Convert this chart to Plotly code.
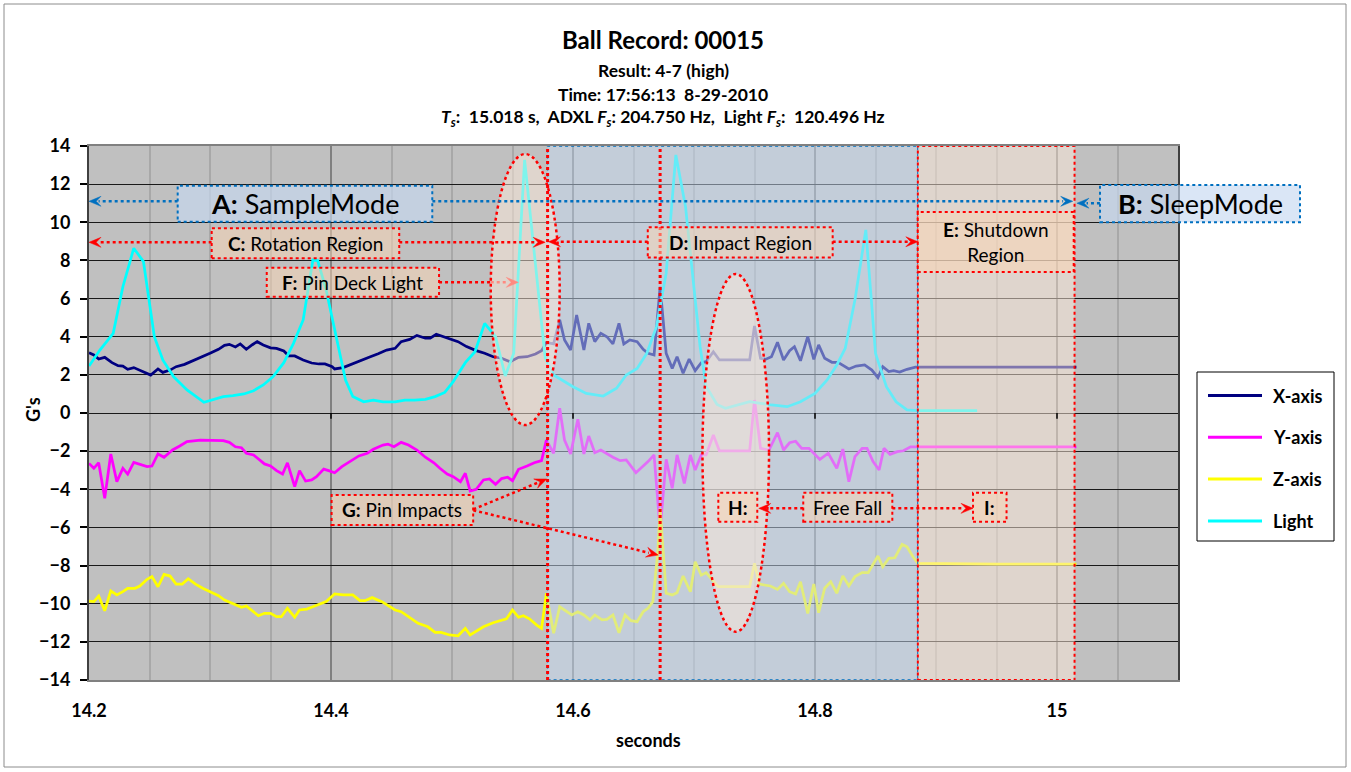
import math
import plotly.graph_objects as go

# ---------------- data ----------------
t_x = [14.200,14.204,14.208,14.213,14.219,14.224,14.228,14.232,14.237,14.242,
       14.247,14.251,14.257,14.261,14.267,14.272,14.279,14.286,14.293,14.300,
       14.307,14.312,14.316,14.321,14.325,14.330,14.335,14.339,14.344,14.350,
       14.355,14.361,14.365,14.370,14.377,14.384,14.390,14.395,14.401,14.403,
       14.410,14.417,14.424,14.432,14.439,14.446,14.453,14.458,14.465,14.471,
       14.478,14.482,14.487,14.493,14.498,14.505,14.512,14.520,14.527,14.534,
       14.541,14.548,14.555,14.562,14.569,14.574,14.578,14.584,14.589,14.593,
       14.598,14.603,14.609,14.613,14.618,14.623,14.628,14.633,14.638,14.642,
       14.647,14.653,14.658,14.662,14.667,14.672,14.677,14.682,14.686,14.691,
       14.696,14.701,14.706,14.710,14.716,14.721,14.746,14.750,14.755,14.759,
       14.764,14.769,14.774,14.779,14.783,14.788,14.794,14.799,14.803,14.808,
       14.814,14.819,14.828,14.834,14.841,14.847,14.852,14.856,14.861,14.865,
       14.870,14.876,14.883,14.900,14.930,14.960,14.990,15.016]
acc_x = [3.16,3.04,2.83,2.92,2.64,2.48,2.46,2.29,2.38,2.25,
         2.08,1.99,2.31,2.13,2.25,2.43,2.55,2.73,2.92,3.13,
         3.34,3.55,3.60,3.46,3.62,3.34,3.58,3.74,3.57,3.42,
         3.39,3.25,3.00,2.99,2.78,2.62,2.57,2.57,2.43,2.31,
         2.38,2.57,2.76,2.94,3.11,3.30,3.39,3.74,3.86,4.07,
         3.92,3.92,4.13,4.00,3.86,3.74,3.48,3.27,3.13,2.95,
         2.87,2.69,2.92,2.95,3.09,3.27,3.70,3.62,4.88,3.83,
         3.30,5.14,3.30,4.70,3.74,4.18,4.00,3.62,4.70,3.62,
         3.83,3.74,3.34,3.13,3.04,6.62,3.13,2.34,2.95,2.08,
         2.83,2.22,2.64,2.69,3.21,2.78,2.78,4.56,2.87,2.81,
         2.95,3.71,2.78,3.27,3.48,2.74,4.00,2.81,3.57,2.87,
         2.66,2.66,2.31,2.46,2.52,2.25,1.85,2.43,2.17,2.22,
         2.15,2.29,2.40,2.41,2.40,2.41,2.40,2.41]

t_y = [14.200,14.204,14.208,14.213,14.218,14.223,14.228,14.232,14.237,14.244,
       14.248,14.252,14.257,14.262,14.269,14.275,14.281,14.292,14.301,14.311,
       14.316,14.321,14.326,14.330,14.336,14.341,14.345,14.350,14.355,14.360,
       14.364,14.370,14.374,14.379,14.384,14.388,14.394,14.398,14.403,14.409,
       14.416,14.423,14.430,14.435,14.443,14.447,14.452,14.458,14.464,14.471,
       14.478,14.485,14.490,14.496,14.501,14.507,14.511,14.515,14.520,14.526,
       14.531,14.536,14.541,14.546,14.550,14.555,14.562,14.568,14.574,14.578,
       14.584,14.589,14.593,14.598,14.604,14.609,14.613,14.618,14.623,14.628,
       14.633,14.639,14.644,14.652,14.658,14.662,14.667,14.672,14.677,14.682,
       14.686,14.692,14.697,14.701,14.706,14.710,14.716,14.721,14.746,14.750,
       14.755,14.762,14.769,14.774,14.779,14.784,14.789,14.795,14.804,14.811,
       14.818,14.823,14.828,14.833,14.839,14.843,14.848,14.853,14.857,14.862,
       14.868,14.873,14.879,14.887,14.950,15.016]
acc_y = [-2.64,-2.90,-2.61,-4.47,-2.15,-3.60,-2.90,-3.20,-2.59,-2.73,
         -2.81,-2.78,-2.15,-2.32,-1.94,-1.73,-1.50,-1.42,-1.42,-1.45,
         -1.54,-1.77,-1.82,-2.11,-2.20,-2.46,-2.67,-2.78,-3.02,-3.20,
         -2.61,-3.86,-3.02,-3.57,-3.51,-3.34,-2.94,-3.02,-3.13,-2.81,
         -2.55,-2.25,-2.11,-1.90,-1.68,-1.63,-1.77,-1.54,-1.68,-1.94,
         -2.32,-2.61,-2.90,-3.20,-3.34,-3.60,-3.16,-4.09,-4.00,-3.51,
         -3.46,-3.74,-3.44,-3.37,-3.55,-2.95,-2.78,-2.61,-2.50,-1.42,
         -2.11,0.25,-1.42,-2.15,-0.33,-2.15,-1.21,-2.08,-1.94,-2.15,
         -2.32,-2.50,-2.46,-3.13,-2.78,-2.55,-2.20,-6.14,-2.43,-3.95,
         -2.20,-3.69,-2.20,-2.99,-2.20,-2.20,-1.15,-1.98,-1.98,0.68,
         -1.85,-1.94,-1.03,-1.94,-1.56,-1.48,-1.85,-1.85,-2.43,-2.11,
         -2.90,-1.89,-3.60,-2.29,-1.85,-1.85,-2.55,-2.99,-1.85,-2.17,
         -2.03,-1.98,-1.77,-1.77,-1.78,-1.78]

t_z = [14.200,14.204,14.208,14.213,14.218,14.223,14.228,14.232,14.238,14.242,
       14.248,14.252,14.257,14.262,14.267,14.272,14.277,14.282,14.288,14.294,
       14.301,14.307,14.312,14.319,14.326,14.330,14.334,14.340,14.345,14.350,
       14.355,14.359,14.364,14.370,14.374,14.380,14.385,14.391,14.396,14.403,
       14.410,14.418,14.424,14.428,14.434,14.442,14.447,14.453,14.458,14.465,
       14.472,14.480,14.486,14.491,14.498,14.505,14.511,14.515,14.520,14.526,
       14.534,14.540,14.545,14.550,14.555,14.559,14.564,14.570,14.574,14.578,
       14.584,14.589,14.593,14.599,14.604,14.609,14.614,14.618,14.624,14.628,
       14.633,14.638,14.643,14.648,14.653,14.658,14.662,14.666,14.670,14.672,
       14.677,14.682,14.686,14.691,14.697,14.701,14.706,14.710,14.720,14.746,
       14.750,14.754,14.763,14.769,14.774,14.779,14.784,14.788,14.794,14.799,
       14.803,14.808,14.813,14.818,14.823,14.828,14.833,14.839,14.844,14.848,
       14.852,14.856,14.861,14.866,14.872,14.876,14.881,14.885,14.950,15.016]
acc_z = [-9.86,-9.89,-9.60,-10.37,-9.33,-9.54,-9.37,-9.19,-9.19,-9.07,
         -8.72,-8.58,-9.11,-8.46,-8.55,-8.97,-8.97,-8.69,-8.97,-9.19,
         -9.40,-9.58,-9.81,-10.02,-10.19,-10.12,-10.33,-10.63,-10.50,-10.50,
         -10.68,-10.68,-10.24,-10.71,-10.33,-10.28,-10.16,-10.02,-9.89,-9.49,
         -9.54,-9.54,-9.84,-9.84,-9.68,-9.89,-10.07,-10.33,-10.42,-10.71,
         -11.03,-11.21,-11.50,-11.50,-11.64,-11.68,-11.29,-11.64,-11.43,-11.21,
         -11.00,-10.89,-10.79,-10.33,-10.71,-10.63,-10.79,-11.12,-11.29,-9.45,
         -11.55,-10.16,-10.33,-10.59,-10.42,-10.59,-10.85,-10.59,-10.85,-10.82,
         -10.59,-11.52,-10.59,-10.89,-10.94,-10.42,-10.24,-9.89,-7.36,-5.00,
         -9.45,-9.54,-9.42,-8.55,-9.37,-7.80,-8.50,-8.37,-9.11,-9.11,
         -7.88,-8.97,-9.07,-9.25,-8.93,-9.37,-9.49,-8.85,-10.51,-8.97,
         -10.47,-9.19,-8.85,-9.45,-8.55,-9.07,-8.58,-8.37,-8.37,-7.97,
         -7.50,-8.06,-7.62,-7.59,-6.89,-7.01,-7.54,-7.88,-7.92,-7.92]

t_light = [14.200,14.209,14.220,14.228,14.237,14.245,14.254,14.261,14.270,14.281,
           14.295,14.303,14.311,14.319,14.328,14.336,14.344,14.352,14.361,14.369,
           14.377,14.385,14.389,14.396,14.405,14.412,14.418,14.427,14.435,14.443,
           14.453,14.461,14.469,14.478,14.486,14.494,14.501,14.511,14.519,14.527,
           14.536,14.544,14.551,14.560,14.577,14.584,14.600,14.611,14.625,14.636,
           14.644,14.653,14.661,14.669,14.677,14.685,14.693,14.699,14.705,14.710,
           14.719,14.726,14.735,14.746,14.755,14.764,14.777,14.788,14.800,14.810,
           14.818,14.825,14.833,14.842,14.850,14.859,14.867,14.876,14.884,14.900,
           14.917,14.934]
light = [2.46,3.30,4.18,6.62,8.64,7.94,4.00,2.78,1.90,1.21,
         0.56,0.72,0.86,0.91,1.00,1.17,1.47,1.90,2.64,3.65,
         4.88,8.02,7.99,6.45,3.83,1.73,0.86,0.59,0.68,0.59,
         0.59,0.68,0.68,0.72,0.86,1.08,1.64,2.64,3.21,4.70,
         4.00,1.94,3.13,13.27,2.90,1.99,1.38,1.03,0.89,1.30,
         1.99,2.34,3.13,4.53,7.33,13.53,10.82,6.97,3.50,1.40,
         0.45,0.25,0.42,0.59,0.51,0.42,0.33,0.59,1.03,1.73,
         2.52,3.39,5.93,9.60,3.13,1.38,0.59,0.16,0.12,0.12,
         0.12,0.12]

series_names = ["X-axis", "Y-axis", "Z-axis", "Light"]
series_colors = ["#000080", "#FF00FF", "#FFFF00", "#00FFFF"]

x_tick_vals = [14.2, 14.4, 14.6, 14.8, 15.0]
x_tick_text = ["14.2", "14.4", "14.6", "14.8", "15"]
y_tick_vals = list(range(-14, 15, 2))
X_RANGE = [14.2, 15.1]
Y_RANGE = [-14, 14]

assert len(t_x) == len(acc_x) and len(t_y) == len(acc_y)
assert len(t_z) == len(acc_z) and len(t_light) == len(light)

# ---------------- styling ----------------
FONT = "Lato"
RED = "#FF0000"
SALMON = "#FF8A80"
BLUE = "#0070C0"
BLUE_FILL = "rgba(198,217,241,0.5)"
BEIGE_FILL = "rgba(253,233,217,0.5)"
BOX_FILL = "rgba(252,213,180,0.5)"
ABOX_FILL = "rgba(198,217,241,0.65)"

# figure / plot-area geometry (pixels)
W, H = 1351, 772
L, R, T, B = 89, 173, 146, 92
PW, PH = W - L - R, H - T - B
SX = PW / (X_RANGE[1] - X_RANGE[0])   # px per second
SY = PH / (Y_RANGE[1] - Y_RANGE[0])   # px per G


def px(xp):
    return (xp - L) / PW


def py(yp):
    return (H - B - yp) / PH


fig = go.Figure()
for tt, vv, nm, col in zip([t_x, t_y, t_z, t_light], [acc_x, acc_y, acc_z, light],
                           series_names, series_colors):
    fig.add_trace(go.Scatter(x=tt, y=vv, name=nm, mode="lines",
                             line=dict(color=col, width=2.75),
                             showlegend=False, hoverinfo="skip"))

shapes = []


def dline(x0, y0, x1, y1, color=RED, width=2.5, ref="x"):
    shapes.append(dict(type="line", xref=ref, yref="y" if ref == "x" else "paper",
                       x0=x0, y0=y0, x1=x1, y1=y1, layer="above",
                       line=dict(color=color, width=width, dash="dot")))


def box(x0, y0, x1, y1, fill=BOX_FILL, color=RED, width=2, ref="x"):
    shapes.append(dict(type="rect", xref=ref, yref="y" if ref == "x" else "paper",
                       x0=x0, y0=y0, x1=x1, y1=y1, layer="above", fillcolor=fill,
                       line=dict(color=color, width=width, dash="dot")))


def arrow(x0, y0, x1, y1, color=RED, width=2.5, head_len=12, head_w=10):
    """dotted line from (x0,y0) to tip (x1,y1) in data units, with a stealth head."""
    ux, uy = (x1 - x0) * SX, (y1 - y0) * SY
    n = math.hypot(ux, uy)
    ux, uy = ux / n, uy / n
    vx, vy = -uy, ux
    back_x, back_y = x1 - ux * head_len * 0.8 / SX, y1 - uy * head_len * 0.8 / SY
    dline(x0, y0, back_x, back_y, color=color, width=width)
    pts = [(0, 0),
           (-ux * head_len + vx * head_w / 2, -uy * head_len + vy * head_w / 2),
           (-ux * head_len * 0.6, -uy * head_len * 0.6),
           (-ux * head_len - vx * head_w / 2, -uy * head_len - vy * head_w / 2)]
    path = "M " + " L ".join(f"{x1 + dx / SX:.6f},{y1 + dy / SY:.6f}" for dx, dy in pts) + " Z"
    shapes.append(dict(type="path", xref="x", yref="y", path=path, layer="above",
                       fillcolor=color, line=dict(color=color, width=0.5)))


# regions
box(14.579, -14, 14.885, 14, fill=BLUE_FILL, color=BLUE, width=1.5)
box(14.885, -14, 15.0145, 14, fill=BEIGE_FILL, color=RED, width=2)
# ellipses
shapes.append(dict(type="circle", xref="x", yref="y", x0=14.532, x1=14.589, y0=-0.63, y1=13.58,
                   layer="above", fillcolor=BEIGE_FILL, line=dict(color=RED, width=2.5, dash="dot")))
shapes.append(dict(type="circle", xref="x", yref="y", x0=14.707, x1=14.762, y0=-11.47, y1=7.29,
                   layer="above", fillcolor=BEIGE_FILL, line=dict(color=RED, width=2.5, dash="dot")))
# region boundaries
dline(14.579, -14, 14.579, 14, width=3)
dline(14.672, -14, 14.672, 14, width=3)

# arrows
arrow(14.2733, 11.1, 14.2, 11.1, color=BLUE)
arrow(14.4837, 11.1, 15.013, 11.1, color=BLUE)
arrow(15.0355, 11.0, 15.0165, 11.0, color=BLUE)
arrow(14.3014, 8.95, 14.2, 8.95)
arrow(14.4564, 8.95, 14.577, 8.95)
arrow(14.6618, 8.98, 14.5797, 8.98)
arrow(14.8146, 8.98, 14.885, 8.98)
dline(14.4893, 6.85, 14.532, 6.85)
arrow(14.532, 6.85, 14.5548, 6.85, color=SALMON)
arrow(14.5176, -5.05, 14.5783, -3.46)
arrow(14.5176, -5.10, 14.6705, -7.45)
arrow(14.7903, -5.0, 14.7535, -5.0)
arrow(14.8639, -5.0, 14.9306, -5.0)

# label boxes
box(14.2733, 10.03, 14.4837, 11.92, fill=ABOX_FILL, color=BLUE, width=2)
box(px(1100), py(222.3), px(1300), py(185), fill=ABOX_FILL, color=BLUE, width=2, ref="paper")
box(14.3014, 8.11, 14.4564, 9.69)
box(14.6618, 8.16, 14.8146, 9.74)
box(14.8849, 7.39, 15.0138, 10.54)
box(14.3469, 6.10, 14.4893, 7.62)
box(14.4005, -5.87, 14.5175, -4.30)
box(14.7201, -5.70, 14.7523, -4.18)
box(14.7903, -5.70, 14.8639, -4.18)
box(14.9306, -5.70, 14.9583, -4.18)

# x-axis tick marks at y = 0
for xv in x_tick_vals[1:]:
    shapes.append(dict(type="line", xref="x", yref="y", x0=xv, x1=xv, y0=0, y1=-0.3,
                       layer="above", line=dict(color="black", width=1.5)))

# outer chart border
shapes.append(dict(type="rect", xref="paper", yref="paper", x0=px(4), x1=px(1346),
                   y0=py(767), y1=py(4), layer="below", line=dict(color="#8C8C8C", width=1)))

annotations = []


def label(x, y, text, size=19, ref="x", anchor="center"):
    annotations.append(dict(x=x, y=y, xref=ref, yref="y" if ref == "x" else "paper",
                            text=text, showarrow=False, xanchor=anchor, yanchor="middle",
                            font=dict(family=FONT, size=size, color="black")))


label(14.3785, 10.975, "<b>A:</b> SampleMode", 27)
label(px(1200), py(203.5), "<b>B:</b> SleepMode", 27, ref="paper")
label(14.3789, 8.90, "<b>C:</b> Rotation Region")
label(14.7382, 8.95, "<b>D:</b> Impact Region")
label(14.9494, 8.965, "<b>E:</b> Shutdown<br>Region")
label(14.4181, 6.86, "<b>F:</b> Pin Deck Light")
label(14.459, -5.085, "<b>G:</b> Pin Impacts")
label(14.7362, -4.94, "<b>H:</b>")
label(14.8271, -4.94, "Free Fall")
label(14.9445, -4.94, "<b>I:</b>")

# legend (drawn by hand to match the reference's long line samples)
shapes.append(dict(type="rect", xref="paper", yref="paper", x0=px(1197), x1=px(1334),
                   y0=py(541), y1=py(372), layer="above", fillcolor="white",
                   line=dict(color="black", width=1)))
for i, (nm, col) in enumerate(zip(series_names, series_colors)):
    yy = 395.5 + i * 41.8
    shapes.append(dict(type="line", xref="paper", yref="paper", x0=px(1208), x1=px(1262),
                       y0=py(yy), y1=py(yy), layer="above", line=dict(color=col, width=3)))
    label(px(1271), py(yy), "<b>" + nm + "</b>", 18, ref="paper", anchor="left")

# titles
NB = "\u00a0"
title_lines = [
    ("<b>Ball Record: 00015</b>", 24, 40),
    ("<b>Result: 4-7 (high)</b>", 17.5, 70),
    ("<b>Time: 17:56:13" + NB + " 8-29-2010</b>", 17.5, 94),
    ("<b><i>T<sub>s</sub></i>:" + NB + " 15.018 s," + NB + " ADXL <i>F<sub>s</sub></i>: 204.750 Hz,"
     + NB + " Light <i>F<sub>s</sub></i>:" + NB + " 120.496 Hz</b>", 17.5, 118),
]
for txt, sz, yp in title_lines:
    annotations.append(dict(x=px(663), y=py(yp), xref="paper", yref="paper", text=txt,
                            showarrow=False, xanchor="center", yanchor="middle",
                            font=dict(family=FONT, size=sz, color="black")))
annotations.append(dict(x=px(33), y=py(410), xref="paper", yref="paper", text="<b>G's</b>",
                        textangle=-90, showarrow=False, xanchor="center", yanchor="middle",
                        font=dict(family=FONT, size=18, color="black")))
annotations.append(dict(x=px(648), y=py(740), xref="paper", yref="paper", text="<b>seconds</b>",
                        showarrow=False, xanchor="center", yanchor="middle",
                        font=dict(family=FONT, size=18, color="black")))

fig.update_layout(
    width=W, height=H,
    margin=dict(l=L, r=R, t=T, b=B, pad=0),
    paper_bgcolor="white", plot_bgcolor="#C0C0C0",
    font=dict(family=FONT, color="black"),
    showlegend=False,
    xaxis=dict(range=X_RANGE, tickmode="array", tickvals=x_tick_vals, ticktext=x_tick_text,
               showgrid=True, gridcolor="#808080", gridwidth=2,
               minor=dict(tickmode="linear", tick0=14.2, dtick=0.05, showgrid=True,
                          gridcolor="#A8A8A8", gridwidth=1.5),
               showline=True, linecolor="#808080", linewidth=2, mirror=True,
               ticks="", zeroline=False, ticklabelstandoff=13,
               tickfont=dict(family=FONT, size=18, color="black", weight="bold")),
    yaxis=dict(range=Y_RANGE, tickmode="array", tickvals=y_tick_vals,
               showgrid=True, gridcolor="#1A1A1A", gridwidth=1.3,
               showline=True, linecolor="#404040", linewidth=2, mirror=True,
               ticks="outside", ticklen=7, tickcolor="black", tickwidth=1.5,
               zeroline=False, ticklabelstandoff=6,
               tickfont=dict(family=FONT, size=18, color="black", weight="bold")),
    shapes=shapes,
    annotations=annotations,
)

fig.write_html("out.html")
